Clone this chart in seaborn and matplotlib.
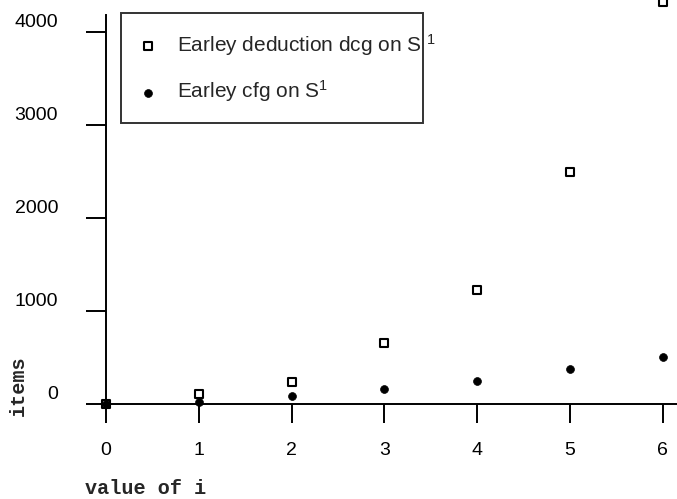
import matplotlib
matplotlib.use("Agg")
import matplotlib.pyplot as plt
import matplotlib.transforms as mtransforms
import seaborn as sns
import pandas as pd

# data
i_values = [0, 1, 2, 3, 4, 5, 6]
dcg_items = [0, 105, 237, 653, 1226, 2490, 4323]
cfg_items = [0, 22, 86, 166, 243, 376, 509]
x_ticks = [0, 1, 2, 3, 4, 5, 6]
y_ticks = [0, 1000, 2000, 3000, 4000]
label_dcg = r"Earley deduction dcg on S $^{\mathrm{1}}$"
label_cfg = r"Earley cfg on S$^{\mathrm{1}}$"

sns.set_theme(style="white")
plt.rcParams['font.family'] = ['Liberation Sans', 'DejaVu Sans']
plt.rcParams['mathtext.fontset'] = 'custom'
plt.rcParams['mathtext.rm'] = 'Liberation Sans'
plt.rcParams['mathtext.it'] = 'Liberation Sans:italic'
plt.rcParams['mathtext.bf'] = 'Liberation Sans:bold'

df = pd.DataFrame({"i": i_values, "dcg": dcg_items, "cfg": cfg_items})

fig = plt.figure(figsize=(6.77, 4.99), dpi=100)
ax = fig.add_axes([0, 0, 1, 1])
ax.set_facecolor("white")

sns.scatterplot(data=df, x="i", y="dcg", marker="s", s=38, facecolor="white",
                edgecolor="black", linewidth=1.5, label=label_dcg, ax=ax, zorder=5)
sns.scatterplot(data=df, x="i", y="cfg", marker="o", s=32, color="black",
                edgecolor="black", linewidth=0.5, label=label_cfg, ax=ax, zorder=6)

ax.set_xlim(-1.142, 6.153)
ax.set_ylim(-1022, 4344)

for side in ["top", "right"]:
    ax.spines[side].set_visible(False)
for side in ["left", "bottom"]:
    ax.spines[side].set_position(("data", 0))
    ax.spines[side].set_color("black")
    ax.spines[side].set_linewidth(1.4)
ax.spines["left"].set_bounds(0, 4183)
ax.spines["bottom"].set_bounds(0, 6.153)

ax.set_xticks(x_ticks)
ax.set_yticks(y_ticks)
ax.tick_params(axis="y", direction="out", length=14.4, width=1.4, pad=20,
               labelsize=14, colors="black", left=True)
ax.tick_params(axis="x", direction="out", length=13.7, width=1.4, pad=14,
               labelsize=14, colors="black", bottom=True)
ax.set_xlabel("")
ax.set_ylabel("")

# y tick labels sit slightly above their ticks in the reference
offset = mtransforms.ScaledTranslation(0, 11 / 100, fig.dpi_scale_trans)
for lab in ax.get_yticklabels():
    lab.set_transform(lab.get_transform() + offset)

leg = ax.legend(loc="upper left", bbox_to_anchor=(0.179, 0.974, 0.446, 0.0),
                mode="expand", frameon=True, fancybox=False, fontsize=15,
                handlelength=0.8, handletextpad=1.0, labelspacing=1.0,
                borderpad=0.9, borderaxespad=0.0, markerscale=1.0)
leg.get_frame().set_edgecolor("black")
leg.get_frame().set_linewidth(1.4)

fig.text(0.027, 0.228, "items", rotation=90, ha="center", va="center",
         family=["Liberation Mono", "DejaVu Sans Mono"], weight="bold", fontsize=14.5)
fig.text(0.1256, 0.022, "value of i", ha="left", va="center",
         family=["Liberation Mono", "DejaVu Sans Mono"], weight="bold", fontsize=14.5)

fig.savefig("out.png", dpi=100)
